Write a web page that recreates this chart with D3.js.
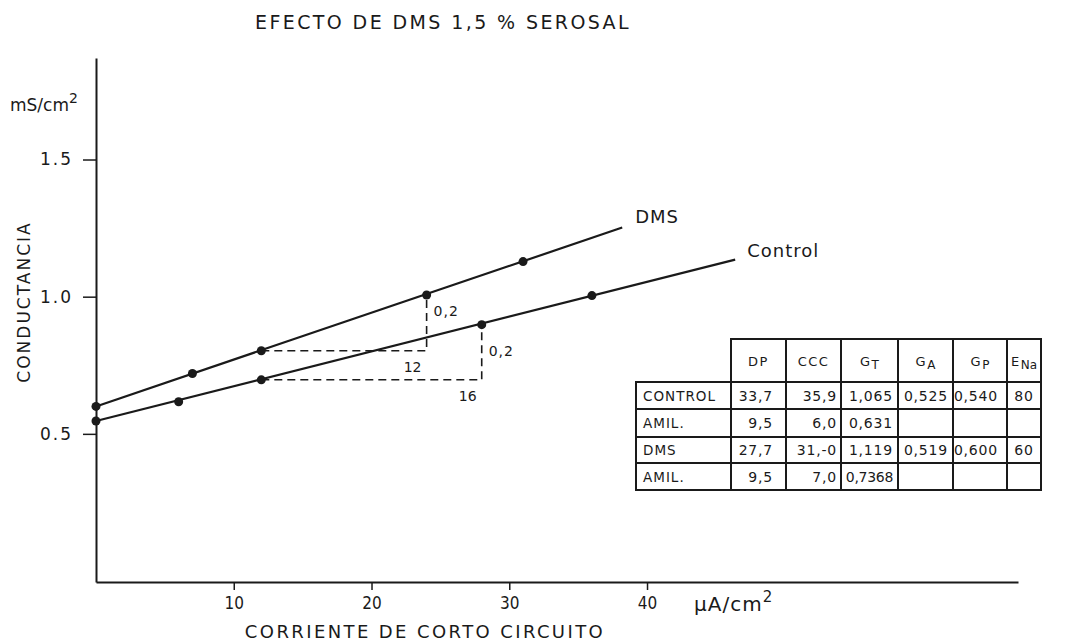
<!DOCTYPE html>
<html>
<head>
<meta charset="utf-8">
<script src="https://cdn.jsdelivr.net/npm/d3@7/dist/d3.min.js"></script>
<style>
  html, body { margin: 0; padding: 0; background: #ffffff; }
  svg { display: block; }
  text { font-family: "DejaVu Sans", "Liberation Sans", sans-serif; fill: #1a1a1a; }
</style>
</head>
<body>
<svg id="chart" width="1070" height="644"></svg>
<script>
// ---- data ----
const dmsX = [0, 7, 12, 24, 31];
const dmsY = [0.60, 0.72, 0.803, 1.006, 1.128];
const controlX = [0, 6, 12, 28, 36];
const controlY = [0.547, 0.617, 0.697, 0.898, 1.004];
// fitted straight lines (start and end)
const dmsLineX = [0, 38.2];
const dmsLineY = [0.60, 1.252];
const controlLineX = [0, 46.4];
const controlLineY = [0.547, 1.135];
// slope construction (dashed): from, to (x), rise
const dmsSlope = { x0: 12, x1: 24, y0: 0.803, y1: 1.006, dx: "12", dy: "0,2" };
const controlSlope = { x0: 12, x1: 28, y0: 0.697, y1: 0.898, dx: "16", dy: "0,2" };

const xTicks = [10, 20, 30, 40];
const yTicks = [0.5, 1.0, 1.5];
const yTickLabels = ["0.5", "1.0", "1.5"];

const tableColumns = ["DP", "CCC", "G|T", "G|A", "G|P", "E|Na"];
const tableRowLabels = ["CONTROL", "AMIL.", "DMS", "AMIL."];
const tableDP = ["33,7", "9,5", "27,7", "9,5"];
const tableCCC = ["35,9", "6,0", "31,-0", "7,0"];
const tableGT = ["1,065", "0,631", "1,119", "0,7368"];
const tableGA = ["0,525", "", "0,519", ""];
const tableGP = ["0,540", "", "0,600", ""];
const tableENa = ["80", "", "60", ""];

// ---- layout ----
const svg = d3.select("#chart");
const ink = "#1a1a1a";
const x = d3.scaleLinear().domain([0, 66.93]).range([96, 1018]);
const y = d3.scaleLinear().domain([-0.04, 1.87]).range([582, 58]);

// title
svg.append("text").attr("x", 443).attr("y", 29).attr("text-anchor", "middle")
  .style("font-size", "19px").style("letter-spacing", "2.4px")
  .text("EFECTO DE DMS 1,5 % SEROSAL");

// axes
const xAxis = d3.axisBottom(x).tickValues(xTicks).tickSize(8).tickSizeOuter(0).tickPadding(7)
  .tickFormat(d3.format("d"));
const gx = svg.append("g").attr("transform", `translate(0,${y.range()[0]})`).call(xAxis);
gx.select(".domain").attr("stroke", ink).attr("stroke-width", 2);
gx.selectAll(".tick line").attr("stroke", ink).attr("stroke-width", 1.5);
gx.selectAll(".tick text").style("font-size", "17px").attr("fill", ink)
  .style("font-family", "DejaVu Sans Condensed, DejaVu Sans, sans-serif");

const yAxis = d3.axisLeft(y).tickValues(yTicks).tickSize(13).tickSizeOuter(0).tickPadding(10)
  .tickFormat((d, i) => yTickLabels[i]);
const gy = svg.append("g").attr("transform", `translate(${x(0)},0)`).call(yAxis);
gy.select(".domain").attr("stroke", ink).attr("stroke-width", 2);
gy.selectAll(".tick line").attr("stroke", ink).attr("stroke-width", 1.5);
gy.selectAll(".tick text").style("font-size", "17px").style("letter-spacing", "2px").attr("fill", ink);

// axis titles
const ms = svg.append("text").attr("x", 10).attr("y", 111).style("font-size", "17px");
ms.append("tspan").text("mS/cm");
ms.append("tspan").attr("dy", -8).style("font-size", "14px").text("2");
svg.append("text").attr("transform", "translate(30,302) rotate(-90)").attr("text-anchor", "middle")
  .style("font-size", "17px").style("letter-spacing", "2px").text("CONDUCTANCIA");
svg.append("text").attr("x", 425).attr("y", 638).attr("text-anchor", "middle")
  .style("font-size", "18px").style("letter-spacing", "2.4px").text("CORRIENTE  DE CORTO CIRCUITO");
const unit = svg.append("text").attr("x", 694).attr("y", 611).style("font-size", "20px")
  .style("letter-spacing", "1px");
unit.append("tspan").text("\u03BCA/cm");
unit.append("tspan").attr("dy", -9).style("font-size", "15px").text("2");

// fitted lines
const lineGen = d3.line().x(d => x(d[0])).y(d => y(d[1]));
[[dmsLineX, dmsLineY], [controlLineX, controlLineY]].forEach(([lx, ly]) => {
  svg.append("path").datum(d3.zip(lx, ly)).attr("d", lineGen)
    .attr("fill", "none").attr("stroke", ink).attr("stroke-width", 2.2);
});

// dashed slope constructions
[dmsSlope, controlSlope].forEach(s => {
  svg.append("path")
    .datum([[s.x0, s.y0], [s.x1, s.y0], [s.x1, s.y1]])
    .attr("d", lineGen).attr("fill", "none").attr("stroke", ink)
    .attr("stroke-width", 1.6).attr("stroke-dasharray", "8,5");
  svg.append("text").attr("x", x(s.x1) + 7).attr("y", y((s.y0 + s.y1) / 2) + 6 - (s === dmsSlope ? 13 : 2))
    .style("font-size", "14px").style("letter-spacing", "1px").text(s.dy);
  svg.append("text").attr("x", x(s.x1) - 14).attr("y", y(s.y0) + 21)
    .attr("text-anchor", "middle").style("font-size", "14px").text(s.dx);
});

// points
[[dmsX, dmsY], [controlX, controlY]].forEach(([px, py]) => {
  svg.append("g").selectAll("circle").data(d3.zip(px, py)).join("circle")
    .attr("cx", d => x(d[0])).attr("cy", d => y(d[1])).attr("r", 4.5).attr("fill", ink);
});

// line labels
svg.append("text").attr("x", x(dmsLineX[1]) + 13).attr("y", y(dmsLineY[1]) - 5)
  .style("font-size", "18px").style("letter-spacing", "1px").text("DMS");
svg.append("text").attr("x", x(controlLineX[1]) + 12).attr("y", y(controlLineY[1]) - 3)
  .style("font-size", "18px").style("letter-spacing", "1px").text("Control");

// ---- table ----
const colEdges = [636, 731, 786, 841, 898, 953, 1007, 1041];
const rowEdges = [339, 382, 409, 437, 463, 490];
const valueRight = [773, 837, 893, 948, 998];
const tg = svg.append("g");
function hline(x1, x2, yy) {
  tg.append("line").attr("x1", x1).attr("x2", x2).attr("y1", yy).attr("y2", yy)
    .attr("stroke", ink).attr("stroke-width", 2);
}
function vline(xx, y1, y2) {
  tg.append("line").attr("x1", xx).attr("x2", xx).attr("y1", y1).attr("y2", y2)
    .attr("stroke", ink).attr("stroke-width", 2);
}
hline(colEdges[1] - 1, colEdges[7] + 1, rowEdges[0]);
rowEdges.slice(1).forEach(r => hline(colEdges[0] - 1, colEdges[7] + 1, r));
vline(colEdges[0], rowEdges[1], rowEdges[5]);
colEdges.slice(1).forEach(c => vline(c, rowEdges[0], rowEdges[5]));

// headers
tableColumns.forEach((c, i) => {
  const [main, sub] = c.split("|");
  const t = tg.append("text").attr("x", (colEdges[i + 1] + colEdges[i + 2]) / 2)
    .attr("y", (rowEdges[0] + rowEdges[1]) / 2 + 5).attr("text-anchor", "middle")
    .style("font-size", "13px").style("letter-spacing", "1.5px");
  t.append("tspan").text(main);
  if (sub) t.append("tspan").attr("dy", 3).style("font-size", "12px").style("letter-spacing", "0px").text(sub);
});
const tableCols = [tableDP, tableCCC, tableGT, tableGA, tableGP, tableENa];
tableRowLabels.forEach((lab, r) => {
  const cy = (rowEdges[r + 1] + rowEdges[r + 2]) / 2 + 5;
  tg.append("text").attr("x", colEdges[0] + 7).attr("y", cy)
    .style("font-size", "13.5px").style("letter-spacing", "1px").text(lab);
  tableCols.forEach((col, ci) => {
    const v = col[r];
    if (!v) return;
    const center = ci === 5;
    tg.append("text")
      .attr("x", center ? (colEdges[ci + 1] + colEdges[ci + 2]) / 2 : valueRight[ci])
      .attr("y", cy).attr("text-anchor", center ? "middle" : "end")
      .style("font-size", "14px").style("letter-spacing", v.length > 5 ? "-0.3px" : "0.8px").text(v);
  });
});
</script>
</body>
</html>
